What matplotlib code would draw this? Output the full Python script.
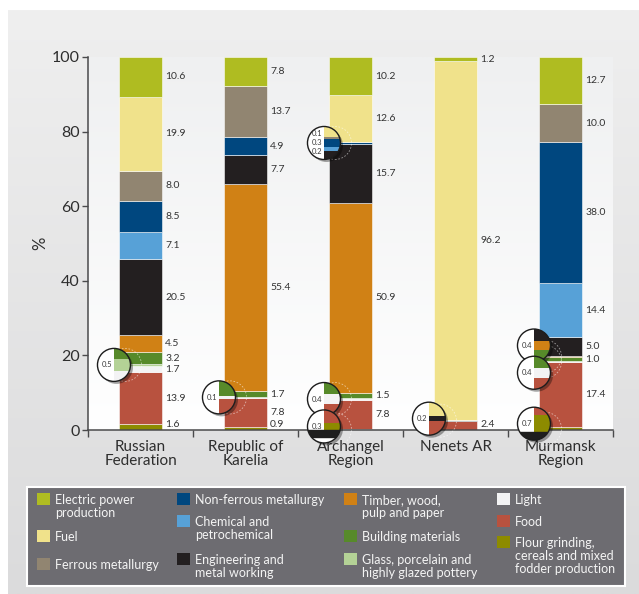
import numpy as np
import matplotlib
matplotlib.use("Agg")
import matplotlib.pyplot as plt
from matplotlib.patches import Rectangle, Circle
import matplotlib.patheffects as pe
from matplotlib.transforms import IdentityTransform, blended_transform_factory

W, H, DPI = 639, 594, 100
FONT = "Lato"
plt.rcParams["font.family"] = [FONT, "DejaVu Sans"]

# ---------------- data ----------------
regions = ["Russian\nFederation", "Republic of\nKarelia", "Archangel\nRegion",
           "Nenets AR", "Murmansk\nRegion"]

# sector values (%), stacked bottom -> top
flour       = [1.6, 0.9, 0.3, 0.0, 0.7]
food        = [13.9, 7.8, 7.8, 2.4, 17.4]
light       = [1.7, 0.1, 0.4, 0.0, 0.4]
glass       = [0.5, 0.0, 0.0, 0.0, 0.0]
building    = [3.2, 1.7, 1.5, 0.0, 1.0]
timber      = [4.5, 55.4, 50.9, 0.0, 0.4]
engineering = [20.5, 7.7, 15.7, 0.2, 5.0]
chemical    = [7.1, 0.0, 0.2, 0.0, 14.4]
nonferrous  = [8.5, 4.9, 0.3, 0.0, 38.0]
ferrous     = [8.0, 13.7, 0.1, 0.0, 10.0]
fuel        = [19.9, 0.0, 12.6, 96.2, 0.0]
electric    = [10.6, 7.8, 10.2, 1.2, 12.7]

sector_keys = ["flour", "food", "light", "glass", "building", "timber",
               "engineering", "chemical", "nonferrous", "ferrous", "fuel", "electric"]
sector_values = [flour, food, light, glass, building, timber,
                 engineering, chemical, nonferrous, ferrous, fuel, electric]
sector_names = {
    "electric": "Electric power\nproduction",
    "fuel": "Fuel",
    "ferrous": "Ferrous metallurgy",
    "nonferrous": "Non-ferrous metallurgy",
    "chemical": "Chemical and\npetrochemical",
    "engineering": "Engineering and\nmetal working",
    "timber": "Timber, wood,\npulp and paper",
    "building": "Building materials",
    "glass": "Glass, porcelain and\nhighly glazed pottery",
    "light": "Light",
    "food": "Food",
    "flour": "Flour grinding,\ncereals and mixed\nfodder production",
}
colors = {
    "electric": "#afbc21", "fuel": "#f0e28b", "ferrous": "#918571",
    "nonferrous": "#00477f", "chemical": "#57a1d7", "engineering": "#231f20",
    "timber": "#d08115", "building": "#578a2a", "glass": "#b4d296",
    "light": "#f3f3f4", "food": "#b8523f", "flour": "#8d8b00",
}
legend_columns = [["electric", "fuel", "ferrous"],
                  ["nonferrous", "chemical", "engineering"],
                  ["timber", "building", "glass"],
                  ["light", "food", "flour"]]
yticks = [0, 20, 40, 60, 80, 100]

# magnifier callouts: (region index, segments shown, vertical shift in px)
callouts = [(0, ["glass"], 0), (1, ["light"], 0), (2, ["light"], 0),
            (2, ["flour"], 3), (2, ["ferrous", "nonferrous", "chemical"], 0),
            (3, ["engineering"], 2), (4, ["timber"], 11), (4, ["light"], -11),
            (4, ["flour"], 5)]

# ---------------- figure ----------------
fig = plt.figure(figsize=(W / DPI, H / DPI), dpi=DPI)
fig.patch.set_facecolor("white")

def fx(x): return x / W
def fy(y): return 1 - y / H

# background axes in pixel coords
axbg = fig.add_axes([0, 0, 1, 1], zorder=-10)
axbg.set_xlim(0, W); axbg.set_ylim(H, 0); axbg.axis("off")

def vgrad(c_top, c_bot, n=256):
    a = np.array(matplotlib.colors.to_rgb(c_top)); b = np.array(matplotlib.colors.to_rgb(c_bot))
    t = np.linspace(0, 1, n)[:, None]
    return (a + (b - a) * t)[:, None, :]

axbg.imshow(vgrad("#efefef", "#dbdbdc"), extent=(8, W, H, 10), origin="upper",
            aspect="auto", interpolation="bilinear")

AX_L, AX_R, AX_T, AX_B = 88, 613, 57, 430
axbg.imshow(vgrad("#eff0f1", "#ffffff"), extent=(AX_L, AX_R, AX_B, AX_T), origin="upper",
            aspect="auto", interpolation="bilinear")
axbg.set_xlim(0, W); axbg.set_ylim(H, 0)

ax = fig.add_axes([fx(AX_L), fy(AX_B), (AX_R - AX_L) / W, (AX_B - AX_T) / H], zorder=1)
ax.patch.set_alpha(0)

x = np.arange(len(regions))
bw = 0.41
bottoms = np.zeros(len(regions))
seg_bottom = {}
for key, vals in zip(sector_keys, sector_values):
    vals = np.array(vals)
    seg_bottom[key] = bottoms.copy()
    ax.bar(x, vals, bw, bottom=bottoms, color=colors[key],
           edgecolor=(1, 1, 1, 0.75), linewidth=0.5, zorder=2)
    for i, v in enumerate(vals):
        if v >= 0.8:
            yc = max(bottoms[i] + v / 2, 1.4)
            ax.annotate(f"{v:.1f}", (x[i] + bw / 2, yc), xytext=(2.2, 0),
                        textcoords="offset points", ha="left", va="center",
                        fontsize=7.5, color="#333333", zorder=3)
    bottoms = bottoms + vals

ax.set_xlim(-0.5, len(regions) - 0.5)
ax.set_ylim(0, 100)
for s in ["top", "right"]:
    ax.spines[s].set_visible(False)
for s in ["left", "bottom"]:
    ax.spines[s].set_color("#4a4a4c")
    ax.spines[s].set_linewidth(1.1)
ax.spines["left"].set_bounds(0, 100)
ax.set_yticks(yticks)
ax.set_yticklabels([str(t) for t in yticks])
ax.tick_params(axis="y", direction="out", length=4, width=1, color="#4a4a4c",
               labelsize=11.5, labelcolor="#2e2e2e", pad=2)
ax.set_xticks(x)
ax.set_xticklabels(regions, fontsize=11, color="#2e2e2e", linespacing=1.05)
ax.tick_params(axis="x", which="major", length=0, pad=7)
ax.set_xticks(np.arange(-0.5, len(regions), 1.0), minor=True)
ax.tick_params(axis="x", which="minor", direction="out", length=5, width=1, color="#4a4a4c")
fig.text(fx(40), fy(243), "%", rotation=90, ha="center", va="center",
         fontsize=12, color="#2e2e2e")

# ---------------- magnifier callouts ----------------
R = 16.5           # px radius
PPU = 24.0         # magnified px per data unit (y)
ppx = (AX_R - AX_L) / len(regions)   # px per x unit
ppy = (AX_B - AX_T) / 100.0
mag = PPU / ppy
vals_by_key = dict(zip(sector_keys, sector_values))
for ci, (ri, segs, dy) in enumerate(callouts):
    mid = segs[len(segs) // 2]
    focus = seg_bottom[mid][ri] + vals_by_key[mid][ri] / 2
    edge_x = x[ri] - bw / 2
    ex, ey = ax.transData.transform((edge_x, focus))
    cx, cy = ex - 5, ey + dy
    # faint dashed ring at lens source
    ax.add_patch(Circle((ex + 6, ey), R, transform=IdentityTransform(), fill=False,
                        ec=(1, 1, 1, 0.55), lw=0.6, ls=(0, (2, 2)), zorder=4, clip_on=False))
    ai = fig.add_axes([(cx - R) / W, (cy - R) / H, 2 * R / W, 2 * R / H], zorder=5 + ci)
    ai.axis("off")
    hx = R / (ppx * mag)
    hy = R / PPU
    ai.set_xlim(edge_x - hx, edge_x + hx)
    ai.set_ylim(focus - hy, focus + hy)
    clip = Circle((0.5, 0.5), 0.5, transform=ai.transAxes)
    bg = Circle((0.5, 0.5), 0.5, transform=ai.transAxes, fc="white", ec="none",
                zorder=0, clip_on=False,
                path_effects=[pe.SimplePatchShadow(offset=(1.8, -1.8), shadow_rgbFace="black",
                                                   alpha=0.35), pe.Normal()])
    ai.add_patch(bg)
    b2 = 0.0
    arts = []
    for key, vals in zip(sector_keys, sector_values):
        v = vals[ri]
        if v > 0:
            arts.extend(ai.bar([x[ri]], [v], bw, bottom=[b2], color=colors[key],
                               edgecolor="none", zorder=1).patches)
        b2 += v
    arts.append(ai.axhspan(-0.27, 0, color="#1e1e1e", zorder=2))
    for a in arts:
        a.set_clip_path(clip)
    ai.add_patch(Circle((0.5, 0.5), 0.5, transform=ai.transAxes, fill=False,
                        ec="#1c1c1c", lw=1.0, zorder=5, clip_on=False))
    tr = ai.transAxes
    n = len(segs)
    for k, key in enumerate(segs):
        yoff = 0.5 + ((n - 1) / 2 - k) * (9.0 / (2 * R))
        ai.text(0.28, yoff, f"{vals_by_key[key][ri]:.1f}", transform=tr, ha="center",
                va="center", fontsize=5.5, color="#3a3a3a", zorder=6)

# ---------------- legend ----------------
axbg.add_patch(Rectangle((27, 487), 598, 99, fc="#6d6c71", ec="white", lw=1.5, zorder=2))
col_sw_x = [37, 177, 344, 497]
col_tx_x = [55, 195, 362, 515]
row_first_line = [[500, 537, 565], [500, 522, 560], [500, 537, 560], [500, 522, 543]]
LINE = 13.0
for c, keys in enumerate(legend_columns):
    for r, key in enumerate(keys):
        yc = row_first_line[c][r]
        axbg.add_patch(Rectangle((col_sw_x[c], yc - 7.5), 12.5, 12, fc=colors[key],
                                 ec="none", zorder=3))
        for k, line in enumerate(sector_names[key].split("\n")):
            axbg.text(col_tx_x[c], yc + 4.3 + k * LINE, line, ha="left", va="baseline",
                      fontsize=9, color="#f4f4f4", zorder=3)

fig.savefig("out.png", dpi=DPI)
